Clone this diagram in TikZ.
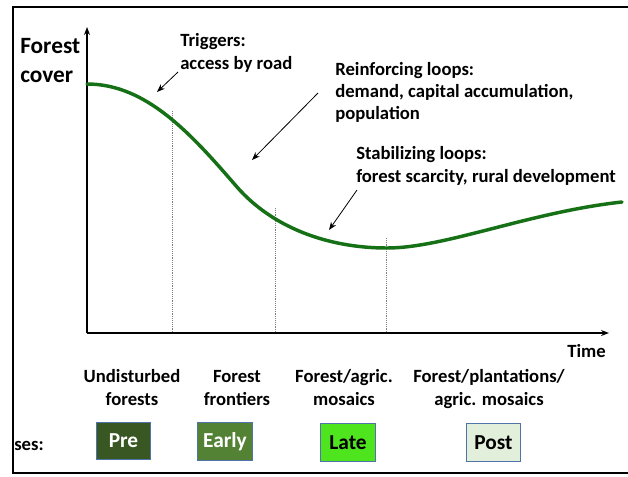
\documentclass[tikz,border=0pt]{standalone}
\usepackage{fontspec}
\setmainfont{Carlito}
\usetikzlibrary{arrows.meta}

\definecolor{coverline}{RGB}{22,112,22}
\definecolor{phaseedge}{RGB}{80,115,170}
\definecolor{preclr}{RGB}{56,87,35}
\definecolor{earlyclr}{RGB}{84,130,53}
\definecolor{lateclr}{RGB}{78,228,30}
\definecolor{postclr}{RGB}{226,239,218}

\tikzset{
  axis/.style={line width=1.1pt, -{Stealth[length=6pt,width=4.5pt]}},
  pointer/.style={line width=0.6pt, -{Stealth[length=6pt,width=4.5pt]}},
  divider/.style={gray, line width=0.4pt, densely dotted},
  % base anchor sits on the last line of a multi-line node
  note/.style={font=\bfseries\fontsize{14}{17.25}\selectfont, anchor=base west,
    align=left, inner sep=0pt},
  stage/.style={font=\bfseries\fontsize{14}{17.25}\selectfont, anchor=base,
    align=center, inner sep=0pt},
  phase/.style={draw=phaseedge, line width=0.8pt, inner sep=0pt,
    minimum width=41pt, minimum height=28pt,
    font=\bfseries\fontsize{16}{19}\selectfont},
}

\begin{document}
\begin{tikzpicture}[x=0.75pt, y=-0.75pt]
\useasboundingbox (0,0) rectangle (628,476);

% frame, open on the right
\draw[line width=1.6pt] (628,7) -- (13,7) -- (13,473) -- (628,473);

% axes
\coordinate (O) at (87,333);
\coordinate (ytip) at (87,27);
\coordinate (xtip) at (609,333);
\draw[axis] (O) -- (ytip);
\draw[axis] (O) -- (xtip);

\node[note, font=\bfseries\fontsize{17.5}{21.75}\selectfont] (ylabel) at (20,82) {Forest\\cover};
\node[note] (xlabel) at (567,357) {Time};

% stage boundaries
\foreach \x/\y in {172/111, 275/208, 386/238}
  \draw[divider] (\x,\y) -- (\x,333);

% forest cover curve
\coordinate (start) at (87,84);
\coordinate (bend) at (237,187);
\coordinate (low) at (387,248);
\coordinate (end) at (622,202);
\draw[coverline, line width=2.6pt, line cap=round]
  (start) .. controls (147,84) and (192,135) .. (bend)
          .. controls (272,227) and (327,248) .. (low)
          .. controls (445,248) and (530,212) .. (end);

% annotations
\node[note] (triggers) at (180,69) {Triggers:\\access by road};
\node[note, font=\bfseries\fontsize{14}{16.5}\selectfont] (reinf) at (335,119)
  {Reinforcing loops:\\demand, capital accumulation,\\population};
\node[note] (stab) at (356,182) {Stabilizing loops:\\forest scarcity, rural development};

\coordinate (trig from) at (178,72);
\coordinate (trig to) at (157,92);
\coordinate (reinf from) at (318,93);
\coordinate (reinf to) at (252,160);
\coordinate (stab from) at (357,190);
\coordinate (stab to) at (329,230);
\draw[pointer] (trig from) -- (trig to);
\draw[pointer] (reinf from) -- (reinf to);
\draw[pointer] (stab from) -- (stab to);

% stages along the time axis
\node[stage] (undist) at (132,405) {Undisturbed\\forests};
\node[stage] (front) at (237,405) {Forest\\frontiers};
\node[stage] (mosaic) at (344,405) {Forest/agric.\\mosaics};
\node[stage] (plant) at (489,405) {Forest/plantations/\\agric. mosaics};

% phases
\node[note] (phases) at (14,450) {ses:};
\node[phase, fill=preclr, text=white] (pre) at (123.5,441) {Pre};
\node[phase, fill=earlyclr, text=white] (early) at (225,441.5) {Early};
\node[phase, fill=lateclr] (late) at (348,442.5) {Late};
\node[phase, fill=postclr] (post) at (493.5,442.5) {Post};

\end{tikzpicture}
\end{document}
